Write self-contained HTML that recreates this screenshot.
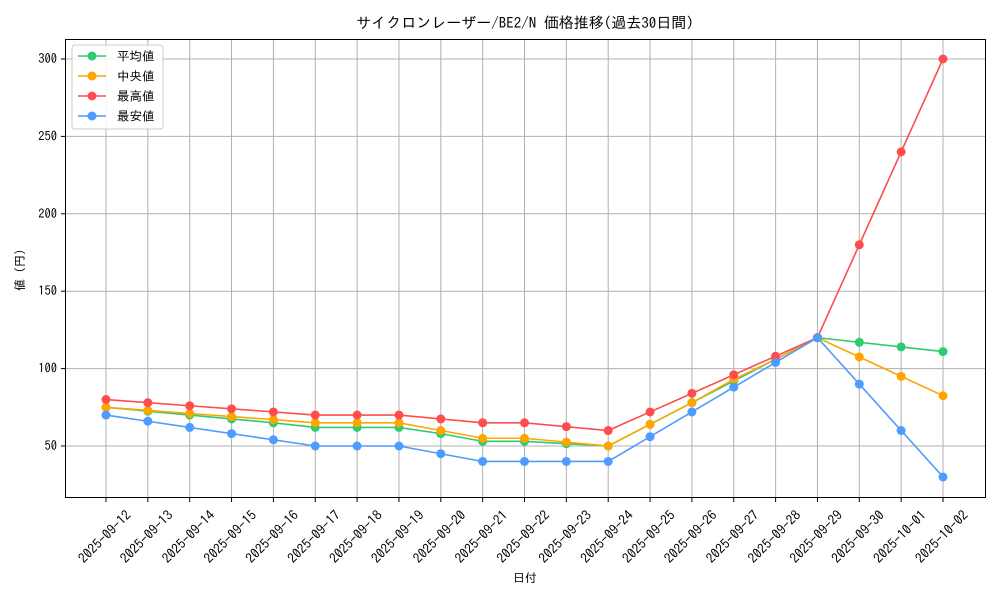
<!DOCTYPE html>
<html><head><meta charset="utf-8"><style>
body{margin:0;background:#fff}
svg text{font-family:"IPAGothic","Liberation Sans","Noto Sans CJK JP",sans-serif;fill:#000}
</style></head><body>
<svg id="chart" width="1000" height="600" xmlns="http://www.w3.org/2000/svg">
<rect width="1000" height="600" fill="#fff"/>
<text x="525" y="28" font-size="15" text-anchor="middle">サイクロンレーザー/BE2/N 価格推移(過去30日間)</text>
<g id="grid"></g><g id="axes"></g><g id="series"></g>
<rect x="65.5" y="39.5" width="920" height="458" fill="none" stroke="#000" stroke-width="1"/>
<text x="525" y="582" font-size="12" text-anchor="middle">日付</text>
<text transform="translate(24,270) rotate(-90)" font-size="12" text-anchor="middle">値 (円)</text>
<g id="legend"></g>
</svg>
<script>
const categories=["2025-09-12","2025-09-13","2025-09-14","2025-09-15","2025-09-16","2025-09-17","2025-09-18","2025-09-19","2025-09-20","2025-09-21","2025-09-22","2025-09-23","2025-09-24","2025-09-25","2025-09-26","2025-09-27","2025-09-28","2025-09-29","2025-09-30","2025-10-01","2025-10-02"];
const avgValues=[75,72.5,70,67.5,65,62,62,62,58,53,53,51.5,50,64,78,92,106,120,117,114,111];
const medianValues=[75,73,71,69,67,65,65,65,60,55,55,52.5,50,64,78,93,106,120,107.5,95,82.5];
const maxValues=[80,78,76,74,72,70,70,70,67.5,65,65,62.5,60,72,84,96,108,120,180,240,300];
const minValues=[70,66,62,58,54,50,50,50,45,40,40,40,40,56,72,88,104,120,90,60,30];
const yTicks=[50,100,150,200,250,300];
const seriesNames=["平均値","中央値","最高値","最安値"];
const colors=["#2ecc71","#ffa500","#ff4d4d","#4d9cff"];
const NS="http://www.w3.org/2000/svg";
function X(i){return 106+i*(943-106)/(categories.length-1);}
function Y(v){return 446-(v-50)*1.548;}
function mk(tag,attrs,parent){const e=document.createElementNS(NS,tag);for(const k in attrs)e.setAttribute(k,attrs[k]);parent.appendChild(e);return e;}
const grid=document.getElementById('grid'),axes=document.getElementById('axes'),ser=document.getElementById('series'),leg=document.getElementById('legend');
categories.forEach((c,i)=>{
 const x=X(i);
 const g=mk('line',{x1:x,x2:x,y1:40,y2:498,stroke:'#b0b0b0','stroke-width':1},grid);
 
 
 const t=mk('line',{x1:x,x2:x,y1:498,y2:502,stroke:'#000'},axes);
 
 
 const l=mk('text',{x:0,y:0,'font-size':13.5,'text-anchor':'middle',transform:`translate(${x+2},${540}) rotate(-45)`},axes);
 l.textContent=c;
 
 
});
yTicks.forEach(v=>{
 const y=Y(v);
 const g=mk('line',{x1:65,x2:985,y1:y,y2:y,stroke:'#b0b0b0','stroke-width':1},grid);
 
 
 const t=mk('line',{x1:61,x2:65,y1:y,y2:y,stroke:'#000'},axes);
 
 
 const l=mk('text',{x:57,y:y+4,'font-size':12.5,'text-anchor':'end'},axes);
 l.textContent=v;
 
 
});
const all=[avgValues,medianValues,maxValues,minValues];
all.forEach((vals,s)=>{
 const p=mk('polyline',{points:vals.map((v,i)=>X(i)+','+Y(v)).join(' '),fill:'none',stroke:colors[s],'stroke-width':1.6},ser);
 
 
 vals.forEach((v,i)=>{
  const c=mk('circle',{cx:X(i),cy:Y(v),r:4.5,fill:colors[s]},ser);
  
  
 });
});
const box=mk('rect',{x:72,y:45,width:91,height:84,rx:3,fill:'#fff','fill-opacity':0.85,stroke:'#ccc'},leg);


seriesNames.forEach((n,s)=>{
 const y=56+s*20;
 const g=mk('g',{},leg);
 
 
 mk('line',{x1:78,x2:106,y1:y,y2:y,stroke:colors[s],'stroke-width':1.6},g);
 mk('circle',{cx:92,cy:y,r:4.5,fill:colors[s]},g);
 const t=mk('text',{x:117,y:y+4.5,'font-size':12.5},g);
 t.textContent=n;
});
</script>
</body></html>
